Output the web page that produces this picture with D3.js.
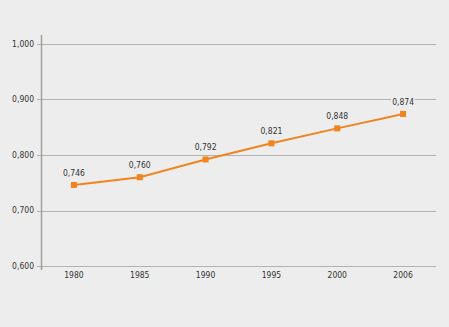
<!DOCTYPE html>
<html>
<head>
<meta charset="utf-8">
<script src="https://cdn.jsdelivr.net/npm/d3@7"></script>
<style>
  html, body { margin: 0; padding: 0; background: #ededed; }
  text { font-family: "Liberation Sans Narrow", "DejaVu Sans Condensed", sans-serif; fill: #333; }
</style>
</head>
<body>
<script>
// chart data
let years = ["1980", "1985", "1990", "1995", "2000", "2006"];
let values = [0.746, 0.760, 0.792, 0.821, 0.848, 0.874];
let yTicks = [0.6, 0.7, 0.8, 0.9, 1.0];

let margin = null, width = null, height = null;
let svg = null;
let x, y = null;

let fmt = v => d3.format(".3f")(v).replace(".", ",");

main();

function main() {
  setupCanvasSize();
  appendSvg("body");
  setupXScale();
  setupYScale();
  appendGrid();
  appendYAxis();
  appendXLabels();
  appendLine();
  appendPoints();
}

function setupCanvasSize() {
  margin = { top: 44, left: 41, bottom: 61, right: 13 };
  width = 449 - margin.left - margin.right;
  height = 327 - margin.top - margin.bottom;
}

function appendSvg(domElement) {
  svg = d3.select(domElement).append("svg")
    .attr("width", width + margin.left + margin.right)
    .attr("height", height + margin.top + margin.bottom)
    .append("g")
    .attr("transform", `translate(${margin.left}, ${margin.top})`);
}

function setupXScale() {
  x = d3.scaleBand().domain(years).range([0, width]);
}

function setupYScale() {
  y = d3.scaleLinear().domain([0.6, 1.0]).range([height, 0]);
}

function appendGrid() {
  svg.append("g")
    .selectAll("line")
    .data(yTicks)
    .enter()
    .append("line")
    .attr("x1", -4)
    .attr("x2", width)
    .attr("y1", d => Math.round(y(d)) + 0.5)
    .attr("y2", d => Math.round(y(d)) + 0.5)
    .attr("stroke", "#b2b2b2")
    .attr("stroke-width", 1);
}

function appendYAxis() {
  svg.append("line")
    .attr("x1", 0.5).attr("x2", 0.5)
    .attr("y1", -9).attr("y2", height + 4)
    .attr("stroke", "#a0a0a0")
    .attr("stroke-width", 1.5);

  svg.append("g")
    .selectAll("text")
    .data(yTicks)
    .enter()
    .append("text")
    .attr("x", -7)
    .attr("y", d => y(d))
    .attr("dy", "0.35em")
    .attr("text-anchor", "end")
    .style("font-size", "8.5px")
    .text(d => fmt(d));
}

function appendXLabels() {
  svg.append("g")
    .selectAll("text")
    .data(years)
    .enter()
    .append("text")
    .attr("x", d => x(d) + x.bandwidth() / 2)
    .attr("y", height + 9)
    .attr("dy", "0.35em")
    .attr("text-anchor", "middle")
    .style("font-size", "8.5px")
    .text(d => d);
}

function appendLine() {
  let line = d3.line()
    .x((d, i) => x(years[i]) + x.bandwidth() / 2)
    .y(d => y(d));

  svg.append("path")
    .datum(values)
    .attr("fill", "none")
    .attr("stroke", "#f0841f")
    .attr("stroke-width", 2)
    .attr("d", line);
}

function appendPoints() {
  let g = svg.append("g");
  g.selectAll("rect")
    .data(values)
    .enter()
    .append("rect")
    .attr("x", (d, i) => x(years[i]) + x.bandwidth() / 2 - 3)
    .attr("y", d => y(d) - 3)
    .attr("width", 6)
    .attr("height", 6)
    .attr("fill", "#f0841f");

  // value labels with a background patch so the grid line is cut
  let labels = g.selectAll("g.lbl")
    .data(values)
    .enter()
    .append("g")
    .attr("class", "lbl")
    .attr("transform", (d, i) => `translate(${x(years[i]) + x.bandwidth() / 2}, ${y(d) - 12})`);

  labels.append("rect")
    .attr("x", -12).attr("y", -5)
    .attr("width", 24).attr("height", 10)
    .attr("fill", "#ededed");

  labels.append("text")
    .attr("text-anchor", "middle")
    .attr("dy", "0.35em")
    .style("font-size", "8.5px")
    .text(d => fmt(d));
}
</script>
</body>
</html>
